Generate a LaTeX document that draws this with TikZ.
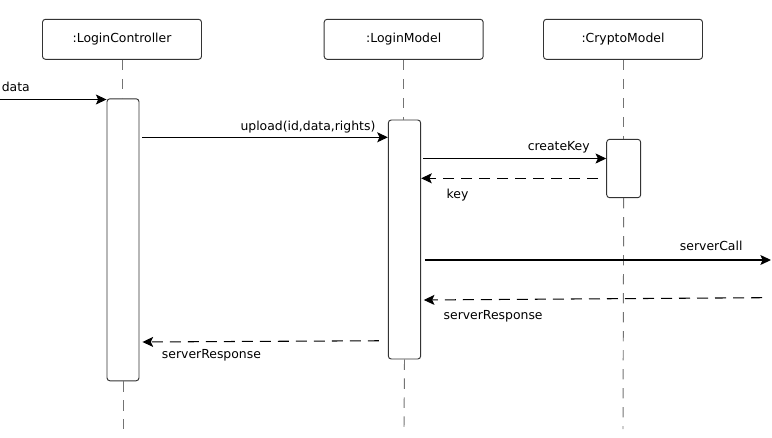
\documentclass[tikz,border=0pt]{standalone}
\usepackage{fontspec}
\setmainfont{DejaVu Sans}
\usetikzlibrary{arrows.meta}
\begin{document}
\begin{tikzpicture}[
        x=0.03cm, y=-0.03cm,
        >={Stealth[length=0.32cm, width=0.3cm, inset=0.07cm]},
        head/.style={draw=black!80, rounded corners=2.5pt, line width=0.8pt,
            minimum width=4.77cm, minimum height=1.2cm, inner sep=0pt,
            font=\fontsize{10.6}{12}\selectfont},
        act/.style={draw=black!80, fill=white, rounded corners=2.5pt,
            line width=0.8pt, inner sep=0pt},
        lifeline/.style={draw=black!55, line width=0.8pt,
            dash pattern=on 0.31cm off 0.26cm},
        msg/.style={->, line width=0.9pt},
        reply/.style={msg, dash pattern=on 0.33cm off 0.21cm},
        lbl/.style={font=\fontsize{10.6}{12}\selectfont, inner sep=0pt}
    ]
        \useasboundingbox (0,0) rectangle (772,437);
        % lifeline heads
        \node[head] (ctrl) at (122,39.3) {:LoginController};
        \node[head] (model) at (403.7,39.3) {:LoginModel};
        \node[head] (crypto) at (623,39.3) {:CryptoModel};
        % activations
        \node[act, minimum width=0.96cm, minimum height=8.46cm] (ctrlAct) at (123,239.8) {};
        \node[act, minimum width=0.97cm, minimum height=7.17cm] (modelAct) at (404.5,239.5) {};
        \node[act, minimum width=1.02cm, minimum height=1.75cm] (cryptoAct) at (623.7,168.5) {};
        % lifelines
        \coordinate (ctrlEnd) at (123,429);
        \coordinate (modelEnd) at (404,429);
        \coordinate (cryptoEnd) at (623,429);
        \draw[lifeline] (ctrl.south) -- (ctrl.south |- ctrlAct.north);
        \draw[lifeline] (ctrlAct.south) -- (ctrlEnd);
        \draw[lifeline] (model.south) -- (model.south |- modelAct.north);
        \draw[lifeline] (modelAct.south) -- (modelEnd);
        \draw[lifeline] (crypto.south) -- (crypto.south |- cryptoAct.north);
        \draw[lifeline] (cryptoAct.south) -- (cryptoEnd);
        % messages
        \coordinate (dataIn) at (0,99.5);
        \draw[msg] (dataIn) -- (ctrlAct.west |- dataIn)
            node[lbl, pos=0, anchor=base west, xshift=0.04cm, yshift=0.25cm] {data};
        \draw[msg, shorten <=0.09cm] (ctrlAct.east |- 0,137.3) -- (modelAct.west |- 0,137.3)
            node[lbl, pos=1, anchor=base east, xshift=-0.36cm, yshift=0.21cm] {upload(id,data,rights)};
        \draw[msg, shorten <=0.06cm] (modelAct.east |- 0,158.5) -- (cryptoAct.west |- 0,158.5)
            node[lbl, pos=1, anchor=base east, xshift=-0.48cm, yshift=0.24cm] {createKey};
        \draw[reply, shorten <=0.24cm] (cryptoAct.west |- 0,178.3) -- (modelAct.east |- 0,178.3)
            node[lbl, pos=1, anchor=base west, xshift=0.75cm, yshift=-0.6cm] {key};
        \coordinate (srvOut) at (771,260);
        \draw[msg, shorten <=0.11cm] (modelAct.east |- srvOut) -- (srvOut)
            node[lbl, pos=1, anchor=base east, xshift=-0.84cm, yshift=0.3cm] {serverCall};
        \coordinate (srvIn) at (762,297.7);
        \draw[reply, shorten >=0.08cm] (srvIn) -- (modelAct.east |- 0,300)
            node[lbl, pos=1, anchor=base west, xshift=0.66cm, yshift=-0.57cm] {serverResponse};
        \draw[reply, shorten <=0.27cm, shorten >=0.09cm] (modelAct.west |- 0,340.7) -- (ctrlAct.east |- 0,342)
            node[lbl, pos=1, anchor=base west, xshift=0.66cm, yshift=-0.48cm] {serverResponse};
    \end{tikzpicture}
\end{document}
